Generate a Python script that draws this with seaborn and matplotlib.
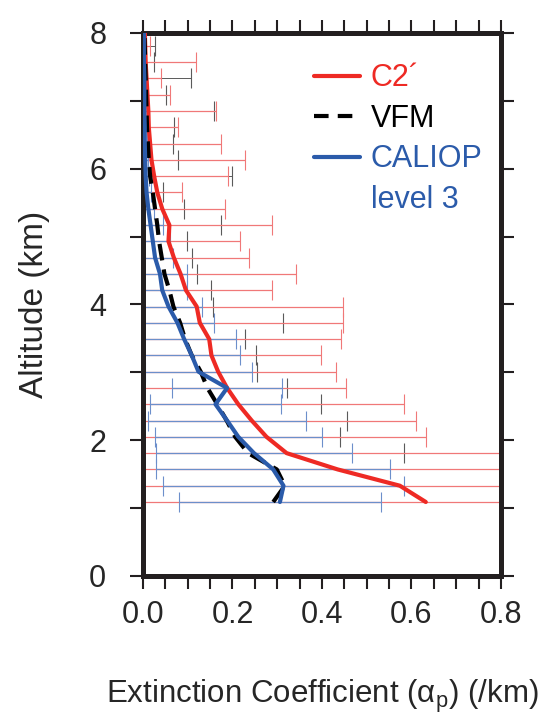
import numpy as np
import pandas as pd
import matplotlib
matplotlib.use('Agg')
import matplotlib.pyplot as plt
from matplotlib.lines import Line2D
from matplotlib.ticker import MultipleLocator
import seaborn as sns

# altitude levels (km)
altitude = [1.09, 1.33, 1.57, 1.81, 2.05, 2.29, 2.53, 2.77, 3.01, 3.25,
            3.49, 3.73, 3.97, 4.21, 4.45, 4.69, 4.93, 5.17, 5.41, 5.65,
            5.89, 6.13, 6.37, 6.61, 6.85, 7.09, 7.33, 7.57, 7.81, 8.05]

# C2' extinction mean and std (/km)
c2_mean = [0.632, 0.574, 0.435, 0.321, 0.276, 0.243, 0.213, 0.188, 0.168, 0.153,
           0.148, 0.127, 0.120, 0.096, 0.084, 0.069, 0.057, 0.059, 0.043, 0.032,
           0.025, 0.019, 0.016, 0.013, 0.012, 0.010, 0.008, 0.006, 0.005, 0.004]
c2_std = [0.70, 0.65, 0.60, 0.55, 0.357, 0.368, 0.371, 0.265, 0.263, 0.244,
          0.294, 0.319, 0.328, 0.192, 0.257, 0.168, 0.160, 0.229, 0.141, 0.056,
          0.166, 0.210, 0.158, 0.065, 0.152, 0.051, 0.033, 0.113, 0.011, 0.0]

# VFM
vfm_mean = [0.291, 0.317, 0.299, 0.235, 0.206, 0.187, 0.166, 0.144, 0.129, 0.109,
            0.094, 0.083, 0.068, 0.059, 0.048, 0.042, 0.036, 0.032, 0.027, 0.022,
            0.016, 0.013, 0.011, 0.009, 0.008, 0.007, 0.006, 0.005, 0.004, 0.003]
vfm_std = [0.55, 0.55, 0.55, 0.349, 0.235, 0.268, 0.231, 0.178, 0.126, 0.144,
           0.133, 0.231, 0.088, 0.094, 0.073, 0.068, 0.062, 0.143, 0.064, 0.023,
           0.183, 0.065, 0.057, 0.060, 0.151, 0.045, 0.102, 0.020, 0.023, 0.0]

# CALIOP level 3
cal_mean = [0.306, 0.314, 0.291, 0.248, 0.213, 0.188, 0.162, 0.188, 0.124, 0.109,
            0.092, 0.077, 0.057, 0.043, 0.038, 0.027, 0.022, 0.017, 0.012, 0.008,
            0.006, 0.005, 0.004, 0.004, 0.003, 0.003, 0.003, 0.002, 0.002, 0.002]
cal_std = [0.226, 0.270, 0.261, 0.218, 0.187, 0.177, 0.146, 0.123, 0.120, 0.107,
           0.115, 0.082, 0.074, 0.056, 0.060, 0.040, 0.038, 0.028, 0.012, 0.010,
           0.008, 0.007, 0.006, 0.005, 0.005, 0.004, 0.004, 0.003, 0.003, 0.0]

RED = '#EE2A24'
BLUE = '#2B5BAA'

sns.set_style('ticks')
plt.rcParams['font.family'] = ['Liberation Sans', 'DejaVu Sans']
plt.rcParams['mathtext.fontset'] = 'custom'
plt.rcParams['mathtext.rm'] = 'Liberation Sans'

fig = plt.figure(figsize=(5.42, 7.14), dpi=100)
ax = fig.add_axes([0.2638, 0.1933, 0.6605, 0.7605])

# error bars: VFM below, C2' middle, CALIOP on top
for mean, std, col, lw, z in [(vfm_mean, vfm_std, '#5A5A5A', 0.7, 0.8),
                              (c2_mean, c2_std, '#F07878', 0.9, 0.9),
                              (cal_mean, cal_std, '#6C8FCB', 0.9, 1.0)]:
    eb = ax.errorbar(mean, altitude, xerr=std, fmt='none', ecolor=col,
                     elinewidth=lw, capsize=7, capthick=0.8, zorder=z)
    for lc in eb.lines[2]:
        lc.set_snap(True)

df = pd.DataFrame({'alt': altitude, 'c2': c2_mean, 'vfm': vfm_mean, 'cal': cal_mean})

sns.lineplot(data=df, x='c2', y='alt', orient='y', estimator=None, color=RED,
             linewidth=3.0, ax=ax, zorder=3)
sns.lineplot(data=df, x='vfm', y='alt', orient='y', estimator=None, color='black',
             linewidth=3.0, ax=ax, zorder=3)
ax.lines[-1].set_dashes((4, 2.2))
sns.lineplot(data=df, x='cal', y='alt', orient='y', estimator=None, color=BLUE,
             linewidth=3.0, ax=ax, zorder=4)

ax.set_xlim(0, 0.8)
ax.set_ylim(0, 8)
ax.set_xticks([0.0, 0.2, 0.4, 0.6, 0.8])
ax.set_xticklabels(['0.0', '0.2', '0.4', '0.6', '0.8'])
ax.xaxis.set_minor_locator(MultipleLocator(0.05))
ax.set_yticks([0, 2, 4, 6, 8])
ax.yaxis.set_minor_locator(MultipleLocator(1))
ax.tick_params(which='both', direction='out', length=9.4, width=1.5,
               top=True, right=True, color='#231F20')
ax.tick_params(axis='y', which='major', pad=17, labelsize=22)
ax.tick_params(axis='x', which='major', pad=8, labelsize=22)
for s in ax.spines.values():
    s.set_linewidth(3.6)
    s.set_color('#231F20')

ax.set_ylabel('Altitude (km)', fontsize=24, labelpad=28)
ax.set_xlabel('Extinction Coefficient (α$_\\mathrm{p}$) (/km)', fontsize=22.5, labelpad=34)

handles = [Line2D([], [], color=RED, lw=3.0),
           Line2D([], [], color='black', lw=3.0, dashes=(3.5, 2.2)),
           Line2D([], [], color=BLUE, lw=3.0),
           Line2D([], [], color='none')]
ax.legend(handles, ['C2´', 'VFM', 'CALIOP', 'level 3'], loc='upper left',
          bbox_to_anchor=(0.435, 0.972), frameon=False, fontsize=22,
          handlelength=1.5, handletextpad=0.35, labelspacing=0.34, borderpad=0,
          labelcolor=[RED, 'black', BLUE, BLUE])

fig.savefig('out.png', dpi=100)
